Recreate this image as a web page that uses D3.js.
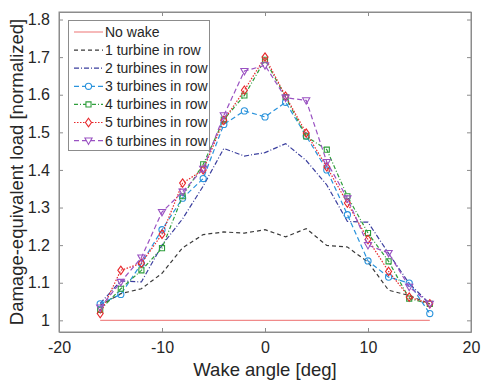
<!DOCTYPE html>
<meta charset="utf-8">
<script src="https://cdn.jsdelivr.net/npm/d3@7/dist/d3.min.js"></script>
<style>
    body { margin: 0; background: #fff; }
    text { font-family: "Liberation Sans", Arial, sans-serif; fill: #262626; }
    .axis path, .axis line { stroke: #8c8c8c; }
</style>
<body>
<script>
    // wake angles [deg]
    var angles = [-16, -14, -12, -10, -8, -6, -4, -2, 0, 2, 4, 6, 8, 10, 12, 14, 16];

    var noWake = [1, 1, 1, 1, 1, 1, 1, 1, 1, 1, 1, 1, 1, 1, 1, 1, 1];
    var turb1 = [1.040, 1.071, 1.084, 1.125, 1.193, 1.228, 1.235, 1.232, 1.241, 1.222, 1.244, 1.199, 1.195, 1.155, 1.080, 1.066, 1.044];
    var turb2 = [1.045, 1.105, 1.102, 1.200, 1.270, 1.357, 1.457, 1.437, 1.446, 1.470, 1.425, 1.360, 1.263, 1.261, 1.178, 1.098, 1.044];
    var turb3 = [1.044, 1.069, 1.151, 1.241, 1.325, 1.377, 1.521, 1.557, 1.541, 1.580, 1.490, 1.400, 1.281, 1.158, 1.115, 1.099, 1.018];
    var turb4 = [1.028, 1.084, 1.133, 1.192, 1.330, 1.415, 1.534, 1.598, 1.693, 1.594, 1.489, 1.454, 1.330, 1.232, 1.157, 1.058, 1.044];
    var turb5 = [1.018, 1.133, 1.152, 1.229, 1.365, 1.400, 1.532, 1.612, 1.700, 1.596, 1.498, 1.408, 1.312, 1.215, 1.130, 1.062, 1.044];
    var turb6 = [1.034, 1.102, 1.167, 1.288, 1.342, 1.403, 1.545, 1.663, 1.678, 1.592, 1.585, 1.421, 1.324, 1.200, 1.179, 1.089, 1.044];

    var xTicks = [-20, -10, 0, 10, 20];
    var yTicks = [1, 1.1, 1.2, 1.3, 1.4, 1.5, 1.6, 1.7, 1.8];

    var series = [
        { name: "No wake", values: noWake, color: "#f08a8a", dash: null, marker: null },
        { name: "1 turbine in row", values: turb1, color: "#3a3a3a", dash: "4,3", marker: null },
        { name: "2 turbines in row", values: turb2, color: "#3b3f9e", dash: "5,2,1,2", marker: null },
        { name: "3 turbines in row", values: turb3, color: "#2a93dc", dash: "5,3", marker: "circle" },
        { name: "4 turbines in row", values: turb4, color: "#2f9e3c", dash: "4,2,1,2", marker: "square" },
        { name: "5 turbines in row", values: turb5, color: "#e8282c", dash: "1.5,1.5", marker: "diamond" },
        { name: "6 turbines in row", values: turb6, color: "#9a52c2", dash: "5,3", marker: "triangle" }
    ];

    var width = 481, height = 380;
    var plotL = 59, plotR = 471, plotT = 12, plotB = 332;

    var svg = d3.select("body").append("svg")
        .attr("width", width)
        .attr("height", height);

    var x = d3.scaleLinear().domain([-20, 20]).range([plotL, plotR]);
    var y = d3.scaleLinear().domain([0.969, 1.82]).range([plotB, plotT]);

    var fmt = function (d) { return String(d); };

    // axes box with inward ticks on every side
    svg.append("g").attr("class", "axis")
        .attr("transform", "translate(0," + plotB + ")")
        .call(d3.axisBottom(x).tickValues(xTicks).tickSizeInner(-4).tickSizeOuter(0).tickPadding(10).tickFormat(fmt))
        .call(function (g) { g.selectAll("text").style("font-size", "16px"); });
    svg.append("g").attr("class", "axis")
        .attr("transform", "translate(0," + plotT + ")")
        .call(d3.axisTop(x).tickValues(xTicks).tickSizeInner(-4).tickSizeOuter(0).tickFormat(""));
    svg.append("g").attr("class", "axis")
        .attr("transform", "translate(" + plotL + ",0)")
        .call(d3.axisLeft(y).tickValues(yTicks).tickSizeInner(-4).tickSizeOuter(0).tickPadding(9).tickFormat(fmt))
        .call(function (g) { g.selectAll("text").style("font-size", "16px"); });
    svg.append("g").attr("class", "axis")
        .attr("transform", "translate(" + plotR + ",0)")
        .call(d3.axisRight(y).tickValues(yTicks).tickSizeInner(-4).tickSizeOuter(0).tickFormat(""));
    svg.append("rect")
        .attr("x", plotL).attr("y", plotT)
        .attr("width", plotR - plotL).attr("height", plotB - plotT)
        .attr("fill", "none").attr("stroke", "#8c8c8c");

    // axis titles
    svg.append("text")
        .attr("x", (plotL + plotR) / 2).attr("y", 376)
        .attr("text-anchor", "middle")
        .style("font-size", "18.5px")
        .text("Wake angle [deg]");
    svg.append("text")
        .attr("transform", "translate(23," + ((plotT + plotB) / 2) + ") rotate(-90)")
        .attr("text-anchor", "middle")
        .style("font-size", "18.5px")
        .text("Damage-equivalent load [normalized]");

    function markerPath(type) {
        if (type === "circle") return d3.symbol(d3.symbolCircle, 30)();
        if (type === "square") return d3.symbol(d3.symbolSquare, 26)();
        if (type === "diamond") return "M0,-4.2L3,0L0,4.2L-3,0Z";
        if (type === "triangle") return "M-3.6,-2.6L3.6,-2.6L0,3.8Z";
        return null;
    }

    var line = d3.line()
        .x(function (d) { return x(d[0]); })
        .y(function (d) { return y(d[1]); });

    series.forEach(function (s) {
        var pts = angles.map(function (a, i) { return [a, s.values[i]]; });
        var g = svg.append("g");
        g.append("path")
            .attr("d", line(pts))
            .attr("fill", "none")
            .attr("stroke", s.color)
            .attr("stroke-width", 1.2)
            .attr("stroke-dasharray", s.dash);
        if (s.marker) {
            g.selectAll("path.mk")
                .data(pts)
                .enter()
                .append("path")
                .attr("class", "mk")
                .attr("d", markerPath(s.marker))
                .attr("transform", function (d) { return "translate(" + x(d[0]) + "," + y(d[1]) + ")"; })
                .attr("fill", "none")
                .attr("stroke", s.color)
                .attr("stroke-width", 1.1);
        }
    });

    // legend
    var lg = svg.append("g");
    lg.append("rect")
        .attr("x", 68.5).attr("y", 20.5)
        .attr("width", 141).attr("height", 130)
        .attr("fill", "#fff").attr("stroke", "#8c8c8c");
    series.forEach(function (s, i) {
        var cy = 32 + i * 18.1;
        lg.append("line")
            .attr("x1", 74).attr("x2", 103)
            .attr("y1", cy).attr("y2", cy)
            .attr("stroke", s.color)
            .attr("stroke-width", 1.2)
            .attr("stroke-dasharray", s.dash);
        if (s.marker) {
            lg.append("path")
                .attr("d", markerPath(s.marker))
                .attr("transform", "translate(88.5," + cy + ")")
                .attr("fill", "#fff")
                .attr("stroke", s.color)
                .attr("stroke-width", 1.1);
        }
        lg.append("text")
            .attr("x", 105).attr("y", cy)
            .attr("dy", "0.35em")
            .style("font-size", "14px")
            .text(s.name);
    });
</script>
</body>
